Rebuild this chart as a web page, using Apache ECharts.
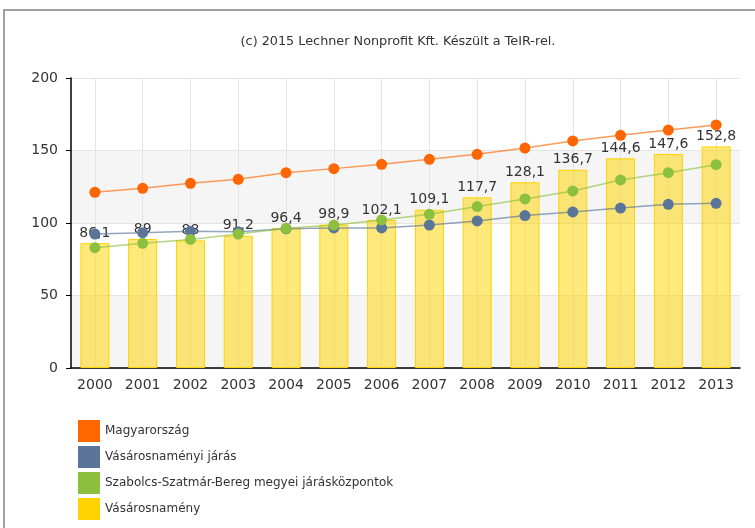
<!DOCTYPE html>
<html>
<head>
<meta charset="utf-8">
<script src="https://cdn.jsdelivr.net/npm/echarts@6/dist/echarts.min.js"></script>
<style>
  html, body { margin: 0; padding: 0; background: #fff; }
  #chart { width: 755px; height: 528px; }
</style>
</head>
<body>
<div id="chart"></div>
<script>
"use strict";

// adatok
var years = ["2000","2001","2002","2003","2004","2005","2006","2007","2008","2009","2010","2011","2012","2013"];
var magyarorszag = [121.2, 123.9, 127.4, 130.1, 134.7, 137.5, 140.5, 143.9, 147.4, 151.7, 156.6, 160.5, 164.1, 167.6];
var jarasValues = [92.4, 93.3, 94.3, 94.0, 96.0, 96.6, 96.6, 98.6, 101.4, 105.1, 107.6, 110.3, 112.9, 113.6];
var megyeiValues = [83.0, 86.0, 88.7, 92.4, 96.3, 98.6, 102.1, 106.0, 111.3, 116.6, 122.1, 129.7, 134.7, 140.2];
var vasarosnamenyValues = [86.1, 89, 88, 91.2, 96.4, 98.9, 102.1, 109.1, 117.7, 128.1, 136.7, 144.6, 147.6, 152.8];
var yTicks = { min: 0, max: 200, interval: 50 };

var seriesNames = ["Magyarország", "Vásárosnaményi járás", "Szabolcs-Szatmár-Bereg megyei járásközpontok", "Vásárosnamény"];
var seriesColors = ["#ff6600", "#5b7598", "#8dc03f", "#ffd200"];

window.onload = function(){

    var myChart = echarts.init(document.getElementById("chart"));

    function lineSeries(idx, data){
        return {
            name: seriesNames[idx],
            type: 'line',
            data: data,
            symbol: 'circle',
            symbolSize: 11,
            z: 3,
            itemStyle: { color: seriesColors[idx] },
            lineStyle: { color: seriesColors[idx], width: 1.5, opacity: 0.65 },
            emphasis: { disabled: true }
        };
    }

    var option = {
        animation: false,
        textStyle: { fontFamily: 'DejaVu Sans' },
        graphic: [
            {   // keret
                type: 'rect',
                shape: { x: 4, y: 10, width: 800, height: 600 },
                style: { fill: 'none', stroke: '#a0a0a0', lineWidth: 2 },
                silent: true
            },
            {
                type: 'text',
                x: 398, y: 42,
                style: {
                    text: '(c) 2015 Lechner Nonprofit Kft. Készült a TeIR-rel.',
                    fill: '#333', font: '12.8px "DejaVu Sans"',
                    align: 'center', verticalAlign: 'middle'
                }
            }
        ],
        legend: {
            orient: 'vertical',
            left: 73, top: 415,
            height: 110,
            itemWidth: 22, itemHeight: 22, itemGap: 4,
            icon: 'rect',
            selectedMode: false,
            textStyle: { color: '#333', fontSize: 12, fontFamily: 'DejaVu Sans' },
            data: [
                { name: seriesNames[0], itemStyle: { color: seriesColors[0] } },
                { name: seriesNames[1], itemStyle: { color: seriesColors[1] } },
                { name: seriesNames[2], itemStyle: { color: seriesColors[2] } },
                { name: seriesNames[3], itemStyle: { color: seriesColors[3], borderWidth: 0 } }
            ]
        },
        grid: { left: 71, top: 78, right: 15, bottom: 160 },
        xAxis: {
            type: 'category',
            data: years,
            axisLine: { lineStyle: { color: '#000', width: 1.5 } },
            axisTick: { alignWithLabel: true, length: 5, lineStyle: { color: '#000' } },
            axisLabel: { color: '#333', fontSize: 14, margin: 10 },
            splitLine: { show: true, alignWithLabel: true, lineStyle: { color: '#e4e4e4' } }
        },
        yAxis: {
            type: 'value',
            min: yTicks.min, max: yTicks.max, interval: yTicks.interval,
            axisLine: { show: true, lineStyle: { color: '#000', width: 1.5 } },
            axisTick: { show: true, length: 5, lineStyle: { color: '#000' } },
            axisLabel: { color: '#333', fontSize: 14, margin: 13 },
            splitLine: { lineStyle: { color: '#e4e4e4' } },
            splitArea: { show: true, areaStyle: { color: ['#f5f5f5', '#ffffff'] } }
        },
        series: [
            {
                name: seriesNames[3],
                type: 'bar',
                data: vasarosnamenyValues,
                barWidth: 29,
                z: 2,
                itemStyle: { color: 'rgba(255,212,0,0.52)', borderColor: '#ffd200', borderWidth: 1 },
                label: {
                    show: true, position: 'top', distance: 3,
                    color: '#333', fontSize: 14,
                    formatter: function(p){ return String(p.value).replace('.', ','); }
                },
                emphasis: { disabled: true }
            },
            lineSeries(0, magyarorszag),
            lineSeries(1, jarasValues),
            lineSeries(2, megyeiValues)
        ]
    };

    myChart.setOption(option);
};
</script>
</body>
</html>
